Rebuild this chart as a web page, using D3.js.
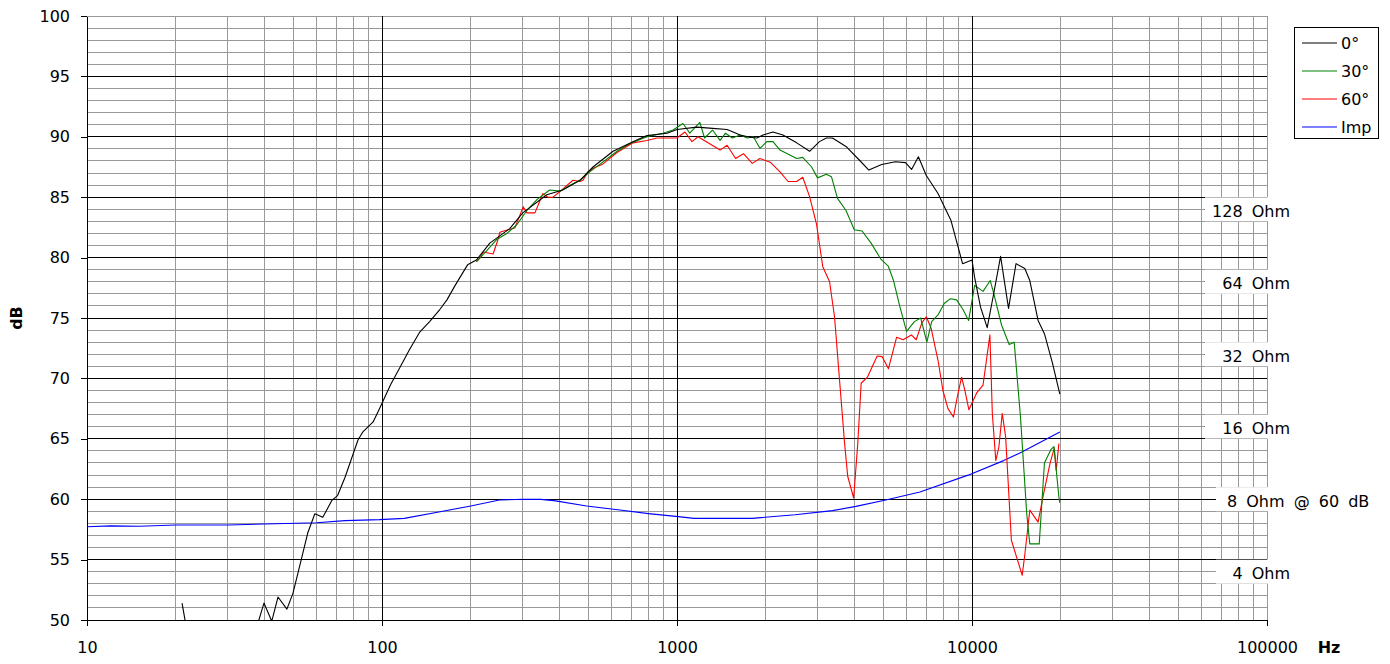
<!DOCTYPE html>
<html>
<head>
<meta charset="utf-8">
<script src="https://cdn.jsdelivr.net/npm/d3@7"></script>
<style>
  body { margin: 0; background: #fff; }
  svg { font-family: "DejaVu Sans", Arial, sans-serif; font-size: 16px; }
</style>
</head>
<body>
<div id="chart"></div>
<script>
// series (Hz / dB, impedance in Ohm)
var freq0 = [21.0, 22.4, 25, 28, 31.5, 35.5, 37.5, 39.8, 42.3, 44.4, 47.6, 49.9, 53.5, 56.0, 59.2, 63.0, 67.6, 70.7, 74.9, 82.9, 86.3, 93.3, 98.5,
  107, 115, 124, 134, 145, 157, 166, 177, 195, 209, 232, 271, 300, 362, 410, 469, 519, 607, 709, 791, 925, 1000, 1168, 1320, 1479,
  1637, 1770, 1866, 1958, 2115, 2286, 2546, 2815, 3040, 3210, 3364, 3740, 4140, 4470, 4940, 5500, 5950, 6240, 6580, 7000, 7670, 8480,
  9290, 10000, 10200, 10690, 11260, 11800, 12500, 13300, 14100, 15100, 15700, 16750, 17600, 18750, 19850];
var spl0 = [51.4, 47.5, 46.5, 46.0, 47.0, 48.0, 49.3, 51.4, 49.9, 51.9, 50.9, 52.2, 55.2, 57.2, 58.8, 58.5, 59.9, 60.3, 61.8, 64.9, 65.6, 66.4, 67.6,
  69.5, 70.9, 72.4, 73.8, 74.7, 75.7, 76.5, 77.7, 79.4, 79.8, 81.2, 82.4, 83.7, 85.2, 85.6, 86.4, 87.5, 88.8, 89.6, 90.1, 90.3, 90.6, 90.8, 90.7, 90.6,
  90.15, 89.96, 89.9, 90.15, 90.4, 90.15, 89.5, 88.8, 89.6, 89.9, 89.9, 89.2, 88.1, 87.25, 87.7, 87.94, 87.86, 87.3, 88.35, 86.8, 85.3, 83.1,
  79.5, 79.8, 78.4, 75.9, 74.2, 76.8, 80.1, 75.8, 79.5, 79.1, 78.1, 74.8, 73.7, 71.25, 68.7];

var freq30 = [209, 227, 245, 265, 286, 310, 335, 370, 401, 434, 469, 506, 560, 626, 693, 791, 895, 970, 1047, 1105, 1195, 1240, 1320, 1399,
  1460, 1540, 1637, 1730, 1815, 1910, 2018, 2115, 2234, 2412, 2546, 2668, 2860, 2994, 3208, 3338, 3500, 3740, 3990, 4240, 4550, 4900,
  5200, 5420, 5700, 6000, 6380, 6700, 7030, 7300, 7670, 8050, 8450, 8870, 9320, 9740, 10210, 10900, 11530, 11860, 12600, 13370, 13900,
  14600, 15330, 15700, 16900, 17600, 18500, 18960, 19700, 19850];
var spl30 = [79.66, 80.6, 81.5, 82.0, 82.7, 83.9, 84.8, 85.6, 85.5, 86.0, 86.4, 87.1, 87.9, 88.8, 89.45, 90.0, 90.3, 90.56, 91.1, 90.3, 91.2, 89.9, 90.56, 89.7,
  90.3, 89.9, 90.15, 89.9, 90.0, 89.05, 89.6, 89.6, 88.9, 88.5, 88.2, 88.3, 87.5, 86.6, 86.9, 86.7, 84.9, 83.9, 82.3, 82.2, 81.2, 79.9,
  79.3, 78.1, 75.9, 73.9, 74.7, 75.0, 73.0, 74.7, 75.25, 76.2, 76.6, 76.5, 75.7, 74.8, 77.7, 77.2, 78.1, 77.0, 74.4, 72.8, 73.0,
  66.8, 58.8, 56.3, 56.3, 63.0, 64.1, 64.35, 60.2, 59.7];

var freq60 = [209, 215, 220, 229, 238, 247, 251, 267, 282, 289, 301, 310, 330, 351, 365, 380, 407, 444, 469, 480, 499, 519, 557, 626, 709,
  791, 855, 1000, 1064, 1124, 1178, 1274, 1399, 1479, 1580, 1680, 1800, 1910, 2070, 2234, 2380, 2546, 2668, 2815, 2970, 3120, 3290,
  3420, 3550, 3700, 3790, 3970, 4100, 4210, 4420, 4770, 4960, 5210, 5550, 5840, 6230, 6470, 6760, 7000, 7270, 7670, 7970, 8290, 8650,
  8920, 9220, 9460, 9760, 10370, 10900, 11500, 11720, 12040, 12340, 12660, 13000, 13600, 14800, 15100, 15700, 16750, 17400, 18400,
  19000, 19300, 19700];
var spl60 = [79.66, 79.97, 80.46, 80.38, 80.3, 81.46, 82.1, 82.3, 82.45, 83.1, 84.2, 83.7, 83.7, 85.3, 85.0, 85.0, 85.6, 86.4, 86.3, 86.4, 87.1, 87.4, 87.7, 88.7, 89.5,
  89.7, 89.9, 89.9, 90.4, 89.6, 90.0, 89.5, 88.9, 89.3, 88.2, 88.6, 87.8, 88.2, 87.9, 87.1, 86.3, 86.3, 86.65, 85.05, 82.8, 79.25, 78.0,
  75.1, 70.1, 64.6, 61.9, 60.1, 64.6, 69.6, 70.1, 71.85, 71.8, 70.8, 73.4, 73.2, 73.6, 73.2, 74.6, 75.1, 74.15, 71.5, 69.0, 67.5, 66.8,
  68.5, 70.1, 69.0, 67.4, 68.8, 69.45, 73.6, 67.1, 63.2, 64.35, 67.1, 65.2, 56.6, 53.7, 55.4, 59.1, 58.1, 60.2, 63.0,
  64.2, 62.4, 64.6];

var freqImp = [10, 12, 15, 20, 30, 40, 60, 75, 98, 119, 159, 200, 250, 300, 345, 383, 494, 640, 800, 1010, 1142, 1800, 2512, 3366, 4042,
  5100, 6660, 9700, 12800, 14700, 19850];
var impOhm = [6.15, 6.2, 6.18, 6.25, 6.25, 6.31, 6.39, 6.52, 6.58, 6.66, 7.11, 7.5, 7.94, 8.0, 7.99, 7.89, 7.5, 7.21, 6.97, 6.77, 6.66, 6.66, 6.89, 7.17, 7.47,
  7.94, 8.57, 10.07, 11.57, 12.53, 15.2];

var seriesNames = ["0°", "30°", "60°", "Imp"];
var seriesColors = ["#000000", "#008000", "#ff0000", "#0000ff"];
var yTicks = [50, 55, 60, 65, 70, 75, 80, 85, 90, 95, 100];
var xTicks = [10, 100, 1000, 10000, 100000];
var ohmMarks = [4, 8, 16, 32, 64, 128];
var ohmLabels = ["4 Ohm", "8 Ohm @ 60 dB", "16 Ohm", "32 Ohm", "64 Ohm", "128 Ohm"];

function toPoints(freqs, values) {
  var pts = [];
  for (var i = 0; i < freqs.length; i++) {
    pts.push({ f: freqs[i], v: values[i] });
  }
  return pts;
}

function drawChart(tag) {
  var W = 1390, H = 664;
  var left = 87, right = 1267, top = 16, bottom = 620;

  var svg = d3.select('#' + tag)
    .append("svg")
      .attr("width", W)
      .attr("height", H);

  var x = d3.scaleLog().domain([10, 100000]).range([left, right]);
  var y = d3.scaleLinear().domain([50, 100]).range([bottom, top]);
  // impedance: 8 Ohm sits at 60 dB, +6 dB per doubling
  var ohm = d3.scaleLog().domain([8, 16]).range([60, 66]);

  // grid
  var minorX = [], majorX = [100, 1000, 10000];
  [10, 100, 1000, 10000].forEach(function(d) {
    for (var k = 2; k <= 9; k++) minorX.push(d * k);
  });
  minorX.push(100000);
  var minorY = d3.range(51, 101).filter(function(d) { return d % 5 !== 0 || d === 100; });
  var majorY = yTicks.filter(function(d) { return d > 50 && d < 100; });

  var grid = svg.append("g").attr("shape-rendering", "crispEdges");
  grid.selectAll("line.minorY").data(minorY).enter().append("line")
    .attr("x1", left).attr("x2", right)
    .attr("y1", function(d) { return y(d); }).attr("y2", function(d) { return y(d); })
    .attr("stroke", "#999").attr("stroke-width", 1);
  grid.selectAll("line.minorX").data(minorX).enter().append("line")
    .attr("x1", function(d) { return x(d); }).attr("x2", function(d) { return x(d); })
    .attr("y1", top).attr("y2", bottom)
    .attr("stroke", "#999").attr("stroke-width", 1);
  grid.selectAll("line.majorY").data(majorY).enter().append("line")
    .attr("x1", left).attr("x2", right)
    .attr("y1", function(d) { return y(d); }).attr("y2", function(d) { return y(d); })
    .attr("stroke", "#000").attr("stroke-width", 1);
  grid.selectAll("line.majorX").data(majorX).enter().append("line")
    .attr("x1", function(d) { return x(d); }).attr("x2", function(d) { return x(d); })
    .attr("y1", top).attr("y2", bottom)
    .attr("stroke", "#000").attr("stroke-width", 1);

  // axes
  var yAxis = svg.append("g")
    .attr("transform", "translate(" + left + ",0)")
    .call(d3.axisLeft(y).tickValues(yTicks).tickSize(6).tickSizeOuter(0).tickPadding(11));
  var xAxis = svg.append("g")
    .attr("transform", "translate(0," + bottom + ")")
    .call(d3.axisBottom(x).tickValues(xTicks).tickFormat(d3.format("d")).tickSize(6).tickSizeOuter(0).tickPadding(16));
  [yAxis, xAxis].forEach(function(a) {
    a.attr("font-family", null).attr("font-size", null);
    a.selectAll("path, line").attr("stroke", "#000").attr("shape-rendering", "crispEdges");
    a.selectAll("text").attr("fill", "#000");
  });

  svg.append("text")
    .attr("transform", "translate(22,318) rotate(-90)")
    .attr("text-anchor", "middle")
    .attr("font-weight", "bold")
    .text("dB");
  svg.append("text")
    .attr("x", 1329).attr("y", 653)
    .attr("text-anchor", "middle")
    .attr("font-weight", "bold")
    .text("Hz");

  // curves
  svg.append("clipPath").attr("id", "plotclip")
    .append("rect").attr("x", left).attr("y", top).attr("width", right - left).attr("height", bottom - top);

  var line = d3.line()
    .x(function(d) { return x(d.f); })
    .y(function(d) { return y(d.v); });

  var impPts = toPoints(freqImp, impOhm).map(function(d) { return { f: d.f, v: ohm(d.v) }; });
  var series = [toPoints(freq0, spl0), toPoints(freq30, spl30), toPoints(freq60, spl60), impPts];

  var curves = svg.append("g").attr("clip-path", "url(#plotclip)");
  // draw imp first, then 60, 30, 0 on top
  [3, 2, 1, 0].forEach(function(i) {
    curves.append("path")
      .datum(series[i])
      .attr("fill", "none")
      .attr("stroke", seriesColors[i])
      .attr("stroke-width", 1.1)
      .attr("stroke-linejoin", "round")
      .attr("d", line);
  });

  // impedance labels on white boxes
  var lab = svg.append("g");
  ohmMarks.forEach(function(m, i) {
    var yy = y(ohm(m));
    var longOne = (m === 8);
    var bx = (m === 8 || m === 4) ? 1216 : 1205;
    var bw = longOne ? 170 : 95;
    lab.append("rect")
      .attr("x", bx).attr("y", yy - 12)
      .attr("width", bw).attr("height", 24)
      .attr("fill", "#fff");
    lab.append("text")
      .attr("x", longOne ? 1227 : 1290)
      .attr("y", yy + 2)
      .attr("dy", "0.35em")
      .attr("word-spacing", "4px")
      .attr("text-anchor", longOne ? "start" : "end")
      .text(ohmLabels[i]);
  });

  // legend
  var lg = svg.append("g");
  lg.append("rect")
    .attr("x", 1294.5).attr("y", 27.5)
    .attr("width", 84).attr("height", 111)
    .attr("fill", "#fff").attr("stroke", "#000").attr("stroke-width", 1);
  seriesNames.forEach(function(name, i) {
    var ly = 43 + i * 28;
    lg.append("line")
      .attr("x1", 1302).attr("x2", 1337)
      .attr("y1", ly).attr("y2", ly)
      .attr("stroke", seriesColors[i]).attr("stroke-width", 1.1);
    lg.append("text")
      .attr("x", 1341).attr("y", ly)
      .attr("dy", "0.35em")
      .text(name);
  });
}

drawChart('chart');
</script>
</body>
</html>
